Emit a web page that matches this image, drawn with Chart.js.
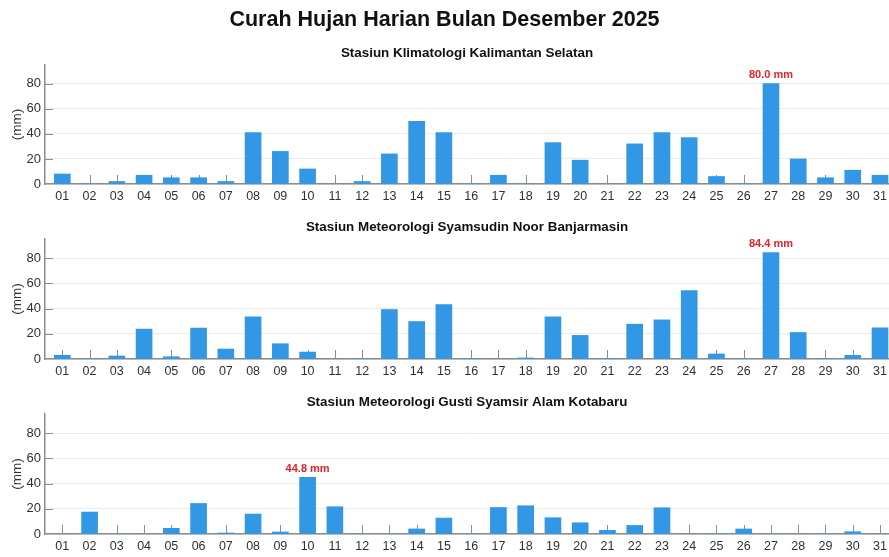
<!DOCTYPE html>
<html>
<head>
<meta charset="utf-8">
<script src="https://cdn.jsdelivr.net/npm/chart.js@4/dist/chart.umd.min.js"></script>
<style>
  html, body { margin: 0; padding: 0; background: #ffffff; overflow: hidden; }
  body { width: 889px; height: 557px; position: relative; }
  .panel { position: absolute; left: 0; width: 889px; }
  .panel canvas { display: block; }
</style>
</head>
<body>
<div class="panel" id="p1" style="top:0px;height:207px;"><canvas id="c1"></canvas></div>
<div class="panel" id="p2" style="top:207px;height:175px;"><canvas id="c2"></canvas></div>
<div class="panel" id="p3" style="top:382px;height:175px;"><canvas id="c3"></canvas></div>
<script>
// ---- data ----
const mainTitle = "Curah Hujan Harian Bulan Desember 2025";
const days = [1,2,3,4,5,6,7,8,9,10,11,12,13,14,15,16,17,18,19,20,21,22,23,24,25,26,27,28,29,30,31];
const dayLabels = ["01","02","03","04","05","06","07","08","09","10","11","12","13","14","15","16","17","18","19","20","21","22","23","24","25","26","27","28","29","30","31"];
const yTicks = [0, 20, 40, 60, 80];
const yAxisLabel = "(mm)";

const station1 = "Stasiun Klimatologi Kalimantan Selatan";
const rain1 = [8, 0, 2, 7, 5, 5, 2, 41, 26, 12, 0, 2, 24, 50, 41, 0, 7, 0, 33, 19, 0, 32, 41, 37, 6, 0, 80.0, 20, 5, 11, 7];

const station2 = "Stasiun Meteorologi Syamsudin Noor Banjarmasin";
const rain2 = [3, 0, 2.4, 23.7, 1.8, 24.5, 7.9, 33.4, 12.1, 5.5, 0, 0, 39.2, 29.7, 43.2, 0.2, 0, 0.8, 33.4, 18.7, 0.4, 27.6, 31, 54.2, 4, 0, 84.4, 21, 0.3, 2.9, 24.7];

const station3 = "Stasiun Meteorologi Gusti Syamsir Alam Kotabaru";
const rain3 = [0, 17.4, 0, 0, 4.5, 24.2, 0.8, 15.8, 1.6, 44.8, 21.6, 0, 0, 4, 12.6, 0, 21, 22.4, 12.9, 8.9, 2.9, 6.8, 20.8, 0, 0, 4, 0, 0, 0, 1.8, 0];

// ---- styling ----
const FONT = "'Liberation Sans', Arial, Helvetica, sans-serif";
const BAR_COLOR = "#3297E4";
const AXIS_COLOR = "#8c8c8c";
const GRID_COLOR = "#ebebeb";
const TEXT_COLOR = "#303030";
const RED = "#E0242A";

// inward tick marks + max-value annotation
const decorPlugin = {
  id: 'decor',
  beforeDatasetsDraw(chart) {
    const {ctx, scales: {x, y}} = chart;
    ctx.save();
    ctx.strokeStyle = AXIS_COLOR;
    ctx.lineWidth = 1;
    const base = y.getPixelForValue(0);
    x.ticks.forEach(t => {
      const px = Math.round(x.getPixelForValue(t.value)) + 0.5;
      ctx.beginPath();
      ctx.moveTo(px, base);
      ctx.lineTo(px, base - 9);
      ctx.stroke();
    });
    const lx = chart.chartArea.left;
    y.ticks.forEach(t => {
      if (t.value === 0) return;
      const py = Math.round(y.getPixelForValue(t.value)) + 0.5;
      ctx.beginPath();
      ctx.moveTo(lx, py);
      ctx.lineTo(lx + 8, py);
      ctx.stroke();
    });
    ctx.restore();
  },
  afterDatasetsDraw(chart) {
    const ds = chart.data.datasets[0];
    const vals = ds.data.map(p => p.y);
    let mi = 0;
    vals.forEach((v, i) => { if (v > vals[mi]) mi = i; });
    const el = chart.getDatasetMeta(0).data[mi];
    const ctx = chart.ctx;
    ctx.save();
    ctx.fillStyle = RED;
    ctx.font = "bold 11px " + FONT;
    ctx.textAlign = 'center';
    ctx.textBaseline = 'bottom';
    ctx.fillText(vals[mi].toFixed(1) + " mm", el.x, el.y - 3);
    ctx.restore();
  }
};

function makeChart(canvasId, values, stationName, withMain) {
  const titleCfg = withMain ? {
    display: true, text: mainTitle, color: '#111',
    font: {family: FONT, size: 21.5, weight: 'bold', lineHeight: 1.2},
    padding: {top: 7, bottom: 12}
  } : {
    display: true, text: stationName, color: '#111', fullSize: false,
    font: {family: FONT, size: 13.4, weight: 'bold', lineHeight: 1.2},
    padding: {top: 12, bottom: 4}
  };
  const subtitleCfg = withMain ? {
    display: true, text: stationName, color: '#111', fullSize: false,
    font: {family: FONT, size: 13.4, weight: 'bold', lineHeight: 1.2},
    padding: {top: 0, bottom: 4}
  } : {display: false};

  return new Chart(document.getElementById(canvasId), {
    type: 'bar',
    data: {
      datasets: [{
        data: days.map((d, i) => ({x: d, y: values[i]})),
        backgroundColor: BAR_COLOR,
        borderWidth: 0,
        barThickness: 16
      }]
    },
    plugins: [decorPlugin],
    options: {
      responsive: true,
      maintainAspectRatio: false,
      animation: false,
      layout: {padding: 0},
      plugins: {
        legend: {display: false},
        tooltip: {enabled: false},
        title: titleCfg,
        subtitle: subtitleCfg
      },
      scales: {
        x: {
          type: 'linear',
          min: 0.365,
          max: 31.33,
          offset: false,
          afterBuildTicks(scale) { scale.ticks = days.map(v => ({value: v})); },
          afterFit(scale) { scale.height = 23; scale.paddingLeft = 0; scale.paddingRight = 0; },
          ticks: {
            autoSkip: false, maxRotation: 0, minRotation: 0, padding: 5,
            color: TEXT_COLOR, font: {family: FONT, size: 12.5},
            callback: (v) => dayLabels[days.indexOf(v)]
          },
          grid: {display: false, drawTicks: false},
          border: {display: true, color: AXIS_COLOR, width: 1.5}
        },
        y: {
          min: 0, max: 95,
          afterBuildTicks(scale) { scale.ticks = yTicks.map(v => ({value: v})); },
          afterFit(scale) { scale.width = 45; },
          ticks: {
            padding: 4, color: TEXT_COLOR, font: {family: FONT, size: 13}
          },
          grid: {color: GRID_COLOR, drawTicks: false, lineWidth: 1},
          border: {display: true, color: AXIS_COLOR, width: 1.5},
          title: {
            display: true, text: yAxisLabel, color: TEXT_COLOR,
            font: {family: FONT, size: 13.5}, padding: {top: 9, bottom: 0}
          }
        }
      }
    }
  });
}

makeChart('c1', rain1, station1, true);
makeChart('c2', rain2, station2, false);
makeChart('c3', rain3, station3, false);
</script>
</body>
</html>
